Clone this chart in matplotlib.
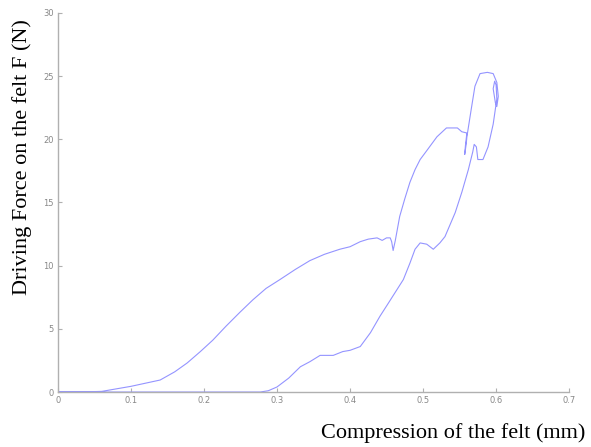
import numpy as np
import matplotlib.pyplot as plt

# loading path (compression mm, force N)
load_x = [0.0, 0.03, 0.06, 0.08, 0.1, 0.12, 0.14, 0.16, 0.177, 0.195, 0.212, 0.23, 0.249,
          0.267, 0.285, 0.304, 0.325, 0.345, 0.365, 0.386, 0.4, 0.414, 0.425, 0.437, 0.444,
          0.45, 0.455, 0.457, 0.459, 0.462, 0.468, 0.475, 0.482, 0.489, 0.496, 0.505,
          0.519, 0.532, 0.547, 0.553, 0.56, 0.558, 0.557, 0.559, 0.56, 0.563, 0.566,
          0.571, 0.578, 0.588, 0.596, 0.601, 0.603, 0.601, 0.599, 0.596, 0.598, 0.6, 0.601]
load_y = [0.0, 0.0, 0.05, 0.25, 0.45, 0.7, 0.95, 1.6, 2.3, 3.2, 4.1, 5.2, 6.3,
          7.3, 8.2, 8.9, 9.7, 10.4, 10.9, 11.3, 11.5, 11.9, 12.1, 12.2, 12.0,
          12.2, 12.2, 11.9, 11.2, 12.0, 13.9, 15.3, 16.6, 17.6, 18.4, 19.1,
          20.2, 20.9, 20.9, 20.6, 20.5, 19.5, 18.8, 19.6, 20.2, 21.3, 22.4,
          24.2, 25.2, 25.3, 25.2, 24.5, 23.4, 22.6, 22.9, 24.0, 24.6, 24.3, 23.2]

# unloading path
unload_x = [0.596, 0.589, 0.582, 0.575, 0.573, 0.57, 0.568, 0.562, 0.553, 0.544, 0.53,
            0.523, 0.514, 0.505, 0.496, 0.489, 0.482, 0.473, 0.462, 0.451, 0.441, 0.428,
            0.414, 0.4, 0.39, 0.377, 0.359, 0.345, 0.332, 0.316, 0.3, 0.288, 0.277, 0.2,
            0.1, 0.0]
unload_y = [21.2, 19.4, 18.4, 18.4, 19.4, 19.6, 19.0, 17.6, 15.8, 14.2, 12.3,
            11.8, 11.3, 11.7, 11.8, 11.3, 10.2, 8.9, 7.9, 6.9, 6.0, 4.7,
            3.6, 3.3, 3.2, 2.9, 2.9, 2.4, 2.0, 1.1, 0.4, 0.1, 0.0, 0.0,
            0.0, 0.0]

fig = plt.figure(figsize=(5.91, 4.47), dpi=100)
ax = fig.add_axes([0.098, 0.123, 0.865, 0.848])

# one continuous trace: load then unload
ax.plot(load_x + unload_x, load_y + unload_y, color='#9494ff', lw=0.8)

ax.set_xlim(0, 0.7)
ax.set_ylim(0, 30)
ax.set_xticks(np.arange(0, 0.71, 0.1))
ax.set_xticklabels(['0', '0.1', '0.2', '0.3', '0.4', '0.5', '0.6', '0.7'])
ax.set_yticks(np.arange(0, 31, 5))

for s in ['top', 'right']:
    ax.spines[s].set_visible(False)
for s in ['left', 'bottom']:
    ax.spines[s].set_color('#b0b0b0')
    ax.spines[s].set_linewidth(1.0)
ax.tick_params(direction='in', length=3, color='#b0b0b0', labelsize=6,
               labelcolor='#888888', pad=3)

fig.text(0.037, 0.649, 'Driving Force on the felt F (N)', rotation=90,
         ha='center', va='center', family='Liberation Serif', fontsize=16)
fig.text(0.99, 0.031, 'Compression of the felt (mm)', ha='right', va='center',
         family='Liberation Serif', fontsize=16)

fig.savefig('out.png', dpi=100)
